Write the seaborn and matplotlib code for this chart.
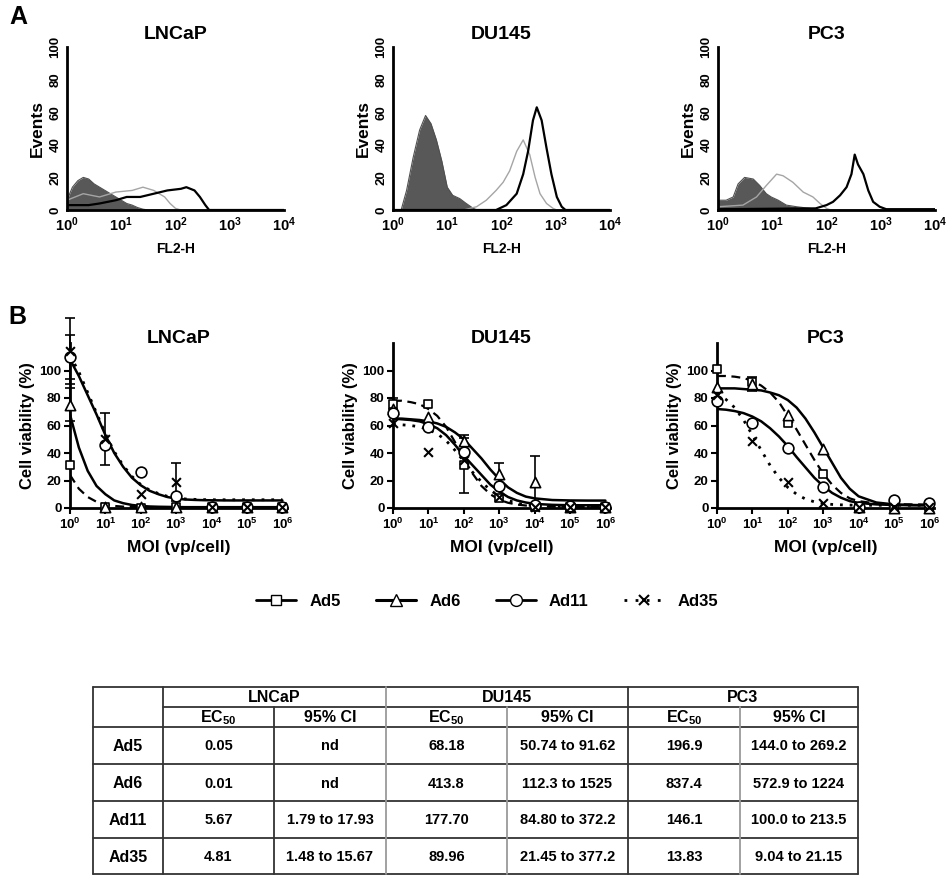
#!/usr/bin/env python3

import numpy as np
import matplotlib
matplotlib.use("Agg")
import matplotlib.pyplot as plt
from matplotlib.lines import Line2D
import seaborn as sns

# ---------------- panel A: FL2-H histograms (x = log10 channel, y = events)
lncap_iso_x = [0, .1, .2, .3, .4, .5, .6, .7, .8, .9, 1.0, 1.1, 1.2, 1.3, 1.4, 1.5, 4]
lncap_iso_y = [6, 14, 18, 20, 19, 16, 14, 12, 10, 8, 6, 4, 3, 1.5, 0.5, 0, 0]
lncap_gray_x = [0, .3, .6, .9, 1.2, 1.4, 1.6, 1.8, 1.9, 2.0, 2.1, 4]
lncap_gray_y = [6, 10, 8, 11, 12, 14, 12, 8, 4, 1, 0, 0]
lncap_black_x = [0, .4, .6, .9, 1.1, 1.35, 1.6, 1.85, 2.1, 2.2, 2.35, 2.45, 2.55, 2.62, 4]
lncap_black_y = [3, 3, 4, 6, 8, 8, 10, 12, 13, 14, 12, 8, 3, 0, 0]

du145_iso_x = [0, .15, .25, .37, .49, .6, .7, .8, .9, 1.0, 1.1, 1.23, 1.35, 1.48, 1.55, 4]
du145_iso_y = [0, 0, 12, 32, 49, 58, 53, 43, 30, 14, 9, 7, 4, 1, 0, 0]
du145_gray_x = [0, 1.3, 1.54, 1.72, 1.9, 2.03, 2.15, 2.28, 2.4, 2.52, 2.62, 2.71, 2.83, 2.95, 3.02, 4]
du145_gray_y = [0, 0, 2, 6, 12, 17, 24, 36, 43, 34, 20, 10, 4, 1, 0, 0]
du145_black_x = [0, 1.9, 2.09, 2.28, 2.4, 2.49, 2.58, 2.65, 2.74, 2.83, 2.92, 3.02, 3.11, 3.18, 4]
du145_black_y = [0, 0, 3, 10, 22, 36, 55, 63, 55, 38, 22, 8, 2, 0, 0]

pc3_iso_x = [0, .15, .28, .37, .49, .65, .77, .89, .98, 1.11, 1.26, 1.45, 1.7, 1.9, 4]
pc3_iso_y = [6, 6, 8, 16, 20, 19, 15, 10, 8, 6, 3, 2, 1, 0, 0]
pc3_gray_x = [0, .46, .71, .89, 1.08, 1.2, 1.38, 1.57, 1.75, 1.88, 2.0, 2.08, 4]
pc3_gray_y = [2, 3, 8, 15, 22, 21, 17, 11, 8, 4, 1, 0, 0]
pc3_black_x = [0, 1.8, 2.0, 2.12, 2.25, 2.37, 2.46, 2.52, 2.58, 2.68, 2.77, 2.86, 2.98, 3.1, 4]
pc3_black_y = [0.5, 1, 3, 5, 9, 14, 22, 34, 28, 22, 12, 5, 2, 0.5, 0.5]

# ---------------- panel B: viability vs MOI
viruses = ["Ad5", "Ad6", "Ad11", "Ad35"]
moi = [1, 10, 100, 1000, 10000, 100000, 1000000]

lncap_ad5 = [31, 0.5, 0, 0.5, 0.5, 0.5, 0.5]
lncap_ad6 = [75, 0.5, 0.5, 0.5, 0.5, 0.5, 0.5]
lncap_ad11 = [110, 46, 26, 9, 0.5, 0.5, 1]
lncap_ad35 = [114, 50, 10, 19, 1, 1, 1]
lncap_err_ad5 = [0, 0, 0, 0, 0, 0, 0]
lncap_err_ad6 = [12, 0, 0, 0, 0, 0, 0]
lncap_err_ad11 = [16, 0, 0, 0, 0, 0, 0]
lncap_err_ad35 = [24, 19, 0, 14, 0, 0, 0]

du145_ad5 = [76, 76, 31, 7, 1, 1, 0.5]
du145_ad6 = [72, 66, 49, 25, 19, 1, 1]
du145_ad11 = [69, 59, 41, 16, 2.5, 1.5, 1]
du145_ad35 = [62, 41, 35, 8, 1, 1, 1]
du145_err_ad5 = [4, 0, 20, 0, 0, 0, 0]
du145_err_ad6 = [0, 0, 4, 8, 19, 0, 0]
du145_err_ad11 = [0, 0, 0, 0, 0, 0, 0]
du145_err_ad35 = [0, 0, 0, 0, 0, 0, 0]

pc3_ad5 = [101, 92, 62, 25, 1, 1, 1]
pc3_ad6 = [88, 90, 68, 43, 1, 0, 0]
pc3_ad11 = [78, 62, 44, 15, 1, 6, 3.5]
pc3_ad35 = [82, 49, 19, 4, 1, 1, 1]
pc3_err_ad5 = [0, 0, 0, 0, 0, 0, 0]
pc3_err_ad6 = [0, 5, 0, 0, 0, 0, 0]
pc3_err_ad11 = [0, 0, 0, 0, 0, 0, 0]
pc3_err_ad35 = [0, 0, 0, 0, 0, 0, 0]

# fitted dose-response curves at these log10(MOI) values
fit_log = [0, 0.25, 0.5, 0.75, 1, 1.25, 1.5, 1.75, 2, 2.25, 2.5, 2.75, 3,
           3.25, 3.5, 3.75, 4, 4.5, 5, 5.5, 6]
lncap_fit_ad5 = [24, 14, 8, 4.5, 2.5, 1.5, 1, 0.8, 0.6, 0.5, 0.5, 0.5, 0.5,
                 0.5, 0.5, 0.5, 0.5, 0.5, 0.5, 0.5, 0.5]
lncap_fit_ad6 = [68, 44, 27, 16, 10, 5.5, 3.5, 2.2, 1.5, 1.1, 0.9, 0.8, 0.7,
                 0.6, 0.6, 0.6, 0.6, 0.6, 0.6, 0.6, 0.6]
lncap_fit_ad11 = [108, 96, 82, 68, 53, 40, 30, 22, 16.5, 12.5, 10, 8, 6.8,
                  6.2, 5.9, 5.7, 5.6, 5.5, 5.5, 5.5, 5.5]
lncap_fit_ad35 = [111, 99, 84, 69, 54, 41, 31, 23, 17, 13, 10.5, 8.5, 7.2,
                  6.6, 6.3, 6.1, 6, 6, 6, 6, 6]

du145_fit_ad5 = [78, 78, 77, 75.5, 72, 67, 59, 48, 36, 25, 16, 10, 6,
                 3.8, 2.5, 1.8, 1.4, 1, 0.9, 0.8, 0.8]
du145_fit_ad6 = [65, 65, 64.5, 64, 63, 61.5, 59, 55, 50, 43, 36, 28, 21,
                 15, 11, 8.3, 7, 5.8, 5.5, 5.4, 5.4]
du145_fit_ad11 = [65, 64.5, 64, 63, 61, 58, 53, 46, 38, 31, 24, 17, 12,
                  8, 5.5, 4, 3, 2.3, 2, 2, 2]
du145_fit_ad35 = [61, 60.5, 60, 59, 57, 54, 49, 42, 34, 26, 19, 13, 8.5,
                  5.5, 3.5, 2.4, 1.8, 1.3, 1.1, 1, 1]

pc3_fit_ad5 = [96, 96, 95.5, 94.5, 92.5, 89, 84, 77, 67, 57, 46, 35, 25,
               17, 11, 7, 5, 3.3, 2.8, 2.6, 2.5]
pc3_fit_ad6 = [87, 87, 87, 86.5, 86, 85.5, 84, 82, 78.5, 73, 65, 55, 44,
               33, 22, 14, 8.5, 4, 2.6, 2.2, 2]
pc3_fit_ad11 = [72, 71.5, 70.5, 69, 66.5, 63, 58, 52, 45, 37, 29.5, 22, 16,
                11, 7.5, 5, 3.7, 2.6, 2.2, 2, 2]
pc3_fit_ad35 = [83, 79, 73, 64, 53, 42, 31, 22, 15, 10, 6.5, 4.5, 3.3,
                2.6, 2.3, 2.1, 2, 2, 2, 2, 2]

# ---------------- table of EC50 values
table_rows = ["Ad5", "Ad6", "Ad11", "Ad35"]
lncap_ec50 = ["0.05", "0.01", "5.67", "4.81"]
lncap_ci = ["nd", "nd", "1.79 to 17.93", "1.48 to 15.67"]
du145_ec50 = ["68.18", "413.8", "177.70", "89.96"]
du145_ci = ["50.74 to 91.62", "112.3 to 1525", "84.80 to 372.2", "21.45 to 377.2"]
pc3_ec50 = ["196.9", "837.4", "146.1", "13.83"]
pc3_ci = ["144.0 to 269.2", "572.9 to 1224", "100.0 to 213.5", "9.04 to 21.15"]

W, H = 952, 886

line_styles = {
    "Ad5": dict(linestyle=(0, (4, 2.5)), lw=1.6),
    "Ad6": dict(linestyle="-", lw=1.8),
    "Ad11": dict(linestyle="-", lw=1.8),
    "Ad35": dict(linestyle=(0, (1, 2.5)), lw=2.0),
}
markers = {"Ad5": ("s", 40), "Ad6": ("^", 55), "Ad11": ("o", 60), "Ad35": ("x", 40)}


def px_axes(fig, left, top, right, bottom):
    return fig.add_axes([left / W, 1 - bottom / H, (right - left) / W, (bottom - top) / H])


def decade_labels(n0, n1):
    return [r"$\mathbf{10^{%d}}$" % k for k in range(n0, n1 + 1)]


def hist_panel(ax, title, iso_x, iso_y, gray_x, gray_y, black_x, black_y):
    ax.set_xscale("log")
    iso_pos = 10 ** np.array(iso_x)
    ax.fill_between(iso_pos, iso_y, color="#585858", lw=0)
    sns.lineplot(x=iso_pos, y=iso_y, ax=ax, color="#505050", lw=0.8)
    sns.lineplot(x=10 ** np.array(gray_x), y=gray_y, ax=ax, color="#a5a5a5", lw=1.0)
    sns.lineplot(x=10 ** np.array(black_x), y=black_y, ax=ax, color="black", lw=1.6)
    ax.set_xlim(1, 1e4)
    ax.set_ylim(0, 100)
    ax.minorticks_off()
    ax.set_xticks([1, 10, 100, 1000, 10000])
    ax.set_xticklabels(decade_labels(0, 4), fontsize=10.5)
    ax.set_yticks([0, 20, 40, 60, 80, 100])
    ax.set_yticklabels(["0", "20", "40", "60", "80", "100"], rotation=90,
                       va="center", fontsize=9.5)
    ax.tick_params(length=0, pad=4)
    ax.set_xlabel("FL2-H", fontsize=10, labelpad=6)
    ax.set_ylabel("Events", fontsize=12.5, labelpad=3)
    sns.despine(ax=ax)
    for s in ["left", "bottom"]:
        ax.spines[s].set_linewidth(2)
    ax.text(0.5, 1.074, title, transform=ax.transAxes, ha="center", va="center",
            fontsize=14, fontweight="bold")


def viability_panel(ax, title, pts, errs, fits):
    ax.set_xscale("log")
    fit_pos = 10 ** np.array(fit_log)
    for v in viruses:
        sns.lineplot(x=fit_pos, y=fits[v], ax=ax, color="black", **line_styles[v])
    for v in viruses:
        e = np.array(errs[v], dtype=float)
        keep = e > 0
        if keep.any():
            ax.errorbar(np.array(moi)[keep], np.array(pts[v])[keep], yerr=e[keep],
                        fmt="none", ecolor="black", elinewidth=1.2, capsize=3.5,
                        capthick=1.2, clip_on=False, zorder=3)
    for v in viruses:
        m, s = markers[v]
        if m == "x":
            sns.scatterplot(x=moi, y=pts[v], ax=ax, marker=m, s=s, color="black",
                            linewidth=1.5, clip_on=False, zorder=5)
        else:
            sns.scatterplot(x=moi, y=pts[v], ax=ax, marker=m, s=s, color="white",
                            edgecolor="black", linewidth=1.2, clip_on=False, zorder=4)
    ax.set_xlim(1, 10 ** 6.13)
    ax.set_ylim(0, 120)
    ax.minorticks_off()
    ax.set_xticks(moi)
    ax.set_xticklabels(decade_labels(0, 6), fontsize=9.5)
    ax.set_yticks([0, 20, 40, 60, 80, 100])
    ax.set_yticklabels(["0", "20", "40", "60", "80", "100"], fontsize=9.5)
    ax.tick_params(direction="out", length=4, width=1.5, pad=2)
    ax.set_xlabel("MOI (vp/cell)", fontsize=12.5, labelpad=6)
    ax.set_ylabel("Cell viability (%)", fontsize=12, labelpad=3)
    sns.despine(ax=ax)
    for s in ["left", "bottom"]:
        ax.spines[s].set_linewidth(2)
    ax.text(0.5, 1.03, title, transform=ax.transAxes, ha="center", va="center",
            fontsize=14, fontweight="bold")


def draw_table(fig):
    tax = fig.add_axes([0, 0, 1, 1], facecolor="none")
    tax.set_xlim(0, W)
    tax.set_ylim(H, 0)
    tax.axis("off")
    cols = [93, 163, 274, 386, 507, 628, 740, 858]
    rows = [687, 707, 727, 764, 801, 838, 874]
    dark, gray = "#333333", "#9a9a9a"
    # horizontal rules
    tax.plot([cols[0], cols[-1]], [rows[0], rows[0]], color=dark, lw=1.3)
    tax.plot([cols[1], cols[-1]], [rows[1], rows[1]], color=dark, lw=1.3)
    for r in rows[2:]:
        tax.plot([cols[0], cols[-1]], [r, r], color=dark, lw=1.3)
    # vertical rules
    tax.plot([cols[0], cols[0]], [rows[0], rows[-1]], color=dark, lw=1.3)
    tax.plot([cols[-1], cols[-1]], [rows[0], rows[-1]], color=dark, lw=1.3)
    tax.plot([cols[1], cols[1]], [rows[0], rows[-1]], color=dark, lw=1.3)
    tax.plot([cols[2], cols[2]], [rows[1], rows[-1]], color=dark, lw=1.3)
    tax.plot([cols[3], cols[3]], [rows[0], rows[-1]], color=gray, lw=1.3)
    tax.plot([cols[4], cols[4]], [rows[1], rows[-1]], color=gray, lw=1.3)
    tax.plot([cols[5], cols[5]], [rows[0], rows[-1]], color=dark, lw=1.3)
    tax.plot([cols[6], cols[6]], [rows[1], rows[-1]], color=gray, lw=1.3)

    kw = dict(ha="center", va="center", fontweight="bold", color="black")
    y1 = (rows[0] + rows[1]) / 2
    y2 = (rows[1] + rows[2]) / 2
    for i, name in enumerate(["LNCaP", "DU145", "PC3"]):
        x0, x1 = cols[1 + 2 * i], cols[3 + 2 * i]
        tax.text((x0 + x1) / 2, y1 + 1, name, fontsize=11.5, **kw)
        tax.text((cols[1 + 2 * i] + cols[2 + 2 * i]) / 2, y2 + 1,
                 r"$\mathbf{EC_{50}}$", fontsize=11.5, **kw)
        tax.text((cols[2 + 2 * i] + cols[3 + 2 * i]) / 2, y2 + 1, "95% CI",
                 fontsize=11.5, **kw)
    columns = [lncap_ec50, lncap_ci, du145_ec50, du145_ci, pc3_ec50, pc3_ci]
    for j, label in enumerate(table_rows):
        yc = (rows[2 + j] + rows[3 + j]) / 2 + 1
        tax.text((cols[0] + cols[1]) / 2, yc, label, fontsize=11.5, **kw)
        for k, col in enumerate(columns):
            tax.text((cols[1 + k] + cols[2 + k]) / 2, yc, col[j], fontsize=10.5, **kw)


if __name__ == "__main__":
    sns.set_style("ticks")
    plt.rcParams["font.family"] = ["Liberation Sans", "DejaVu Sans"]
    plt.rcParams["font.weight"] = "bold"
    plt.rcParams["axes.labelweight"] = "bold"
    plt.rcParams["mathtext.fontset"] = "custom"
    plt.rcParams["mathtext.rm"] = "Liberation Sans:bold"
    plt.rcParams["mathtext.bf"] = "Liberation Sans:bold"
    plt.rcParams["mathtext.it"] = "Liberation Sans:bold"
    plt.rcParams["axes.edgecolor"] = "black"
    plt.rcParams["text.color"] = "black"
    plt.rcParams["axes.labelcolor"] = "black"
    plt.rcParams["xtick.color"] = "black"
    plt.rcParams["ytick.color"] = "black"
    plt.rcParams["xtick.labelcolor"] = "black"
    plt.rcParams["ytick.labelcolor"] = "black"

    fig = plt.figure(figsize=(W / 100, H / 100), dpi=100)

    # panel A
    for left, title, data in [
        (67, "LNCaP", (lncap_iso_x, lncap_iso_y, lncap_gray_x, lncap_gray_y, lncap_black_x, lncap_black_y)),
        (393, "DU145", (du145_iso_x, du145_iso_y, du145_gray_x, du145_gray_y, du145_black_x, du145_black_y)),
        (718, "PC3", (pc3_iso_x, pc3_iso_y, pc3_gray_x, pc3_gray_y, pc3_black_x, pc3_black_y)),
    ]:
        ax = px_axes(fig, left, 47, left + 217, 210)
        hist_panel(ax, title, *data)

    # panel B
    panels = [
        (70, "LNCaP",
         dict(zip(viruses, [lncap_ad5, lncap_ad6, lncap_ad11, lncap_ad35])),
         dict(zip(viruses, [lncap_err_ad5, lncap_err_ad6, lncap_err_ad11, lncap_err_ad35])),
         dict(zip(viruses, [lncap_fit_ad5, lncap_fit_ad6, lncap_fit_ad11, lncap_fit_ad35]))),
        (393, "DU145",
         dict(zip(viruses, [du145_ad5, du145_ad6, du145_ad11, du145_ad35])),
         dict(zip(viruses, [du145_err_ad5, du145_err_ad6, du145_err_ad11, du145_err_ad35])),
         dict(zip(viruses, [du145_fit_ad5, du145_fit_ad6, du145_fit_ad11, du145_fit_ad35]))),
        (717, "PC3",
         dict(zip(viruses, [pc3_ad5, pc3_ad6, pc3_ad11, pc3_ad35])),
         dict(zip(viruses, [pc3_err_ad5, pc3_err_ad6, pc3_err_ad11, pc3_err_ad35])),
         dict(zip(viruses, [pc3_fit_ad5, pc3_fit_ad6, pc3_fit_ad11, pc3_fit_ad35]))),
    ]
    for left, title, pts, errs, fits in panels:
        ax = px_axes(fig, left, 343, left + 217, 508)
        viability_panel(ax, title, pts, errs, fits)

    fig.text(18 / W, 1 - 17 / H, "A", fontsize=18, fontweight="bold", ha="center", va="center")
    fig.text(17 / W, 1 - 317 / H, "B", fontsize=18, fontweight="bold", ha="center", va="center")

    handles = [
        Line2D([], [], color="black", lw=2, marker="s", markersize=7,
               markerfacecolor="white", markeredgecolor="black"),
        Line2D([], [], color="black", lw=2.2, marker="^", markersize=8,
               markerfacecolor="white", markeredgecolor="black"),
        Line2D([], [], color="black", lw=2, marker="o", markersize=8.5,
               markerfacecolor="white", markeredgecolor="black"),
        Line2D([], [], color="black", lw=2, linestyle=(0, (1, 3)), marker="x",
               markersize=7, markeredgewidth=1.5),
    ]
    fig.legend(handles, viruses, loc="center", bbox_to_anchor=(487 / W, 1 - 601 / H),
               ncol=4, frameon=False, fontsize=12, handlelength=2.4,
               handletextpad=0.8, columnspacing=2.1)

    draw_table(fig)

    fig.savefig("out.png", dpi=100)
    plt.close()
    print("out.png created successfully")
